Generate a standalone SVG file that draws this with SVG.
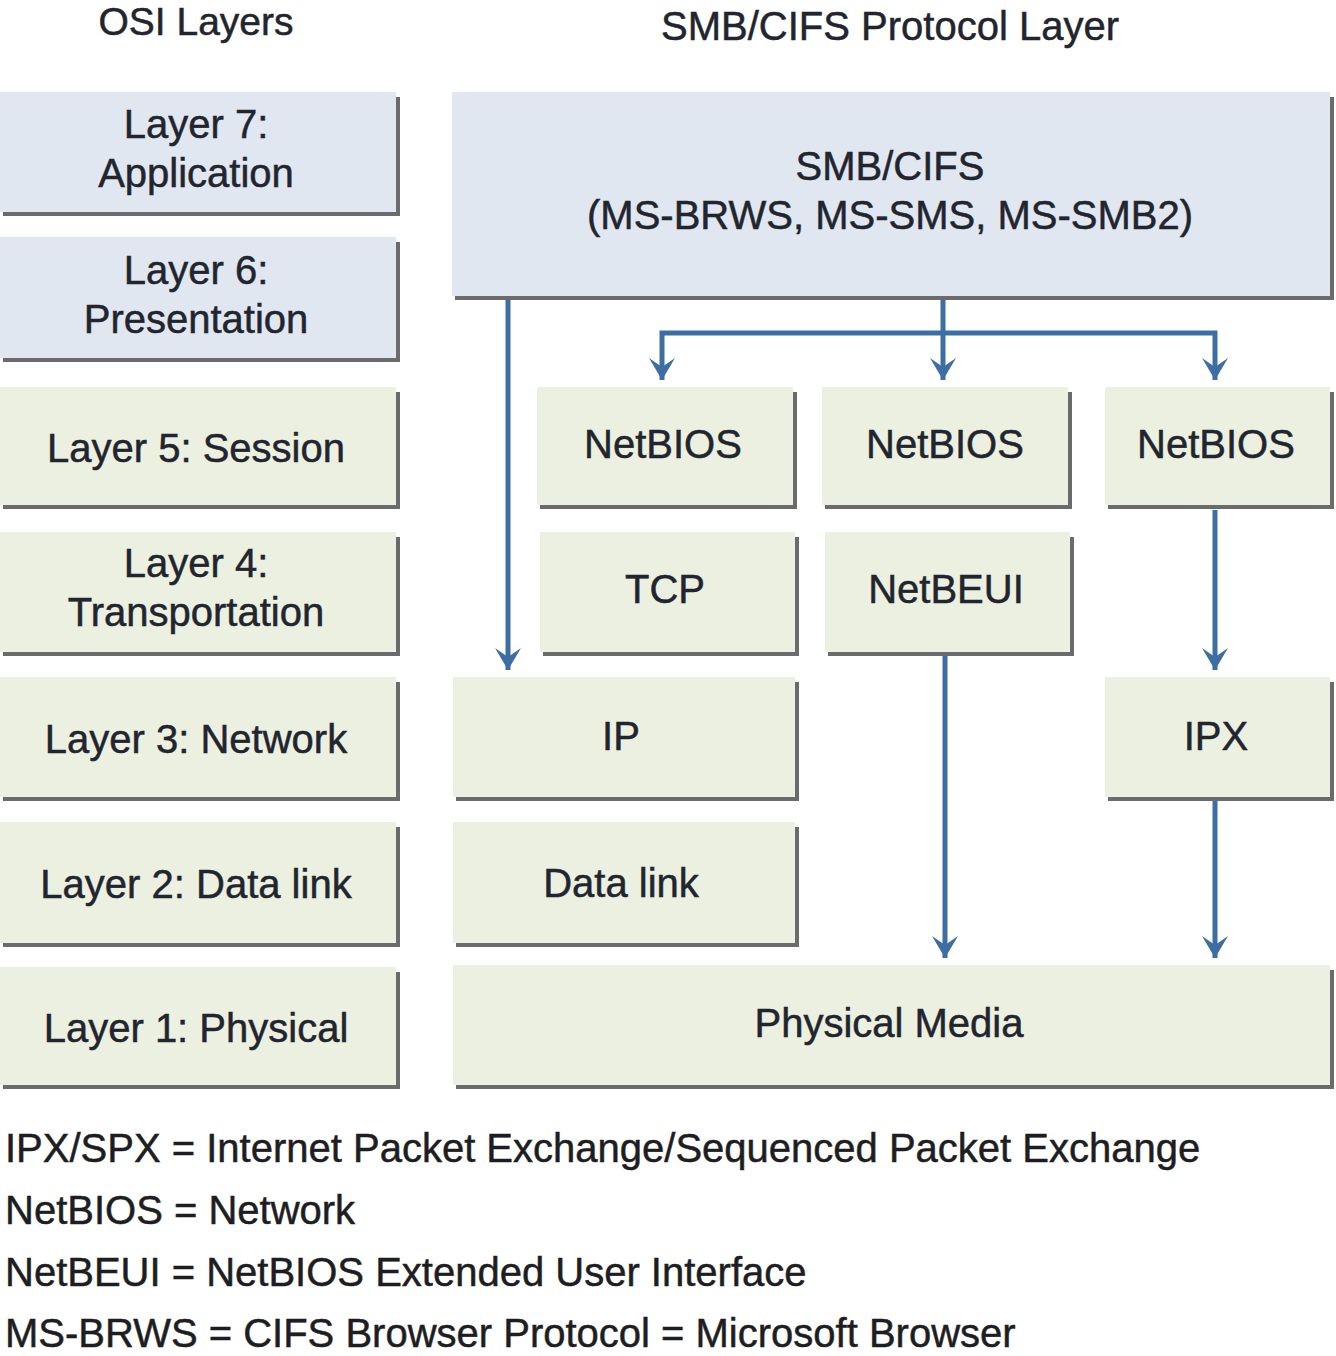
<svg xmlns="http://www.w3.org/2000/svg" width="1336" height="1356" viewBox="0 0 1336 1356">
<defs>
<style>
.t{font-family:"Liberation Sans",Arial,sans-serif;font-size:40px;fill:#22252e;stroke:#22252e;stroke-width:0.5;text-anchor:middle}
.lg{font-family:"Liberation Sans",Arial,sans-serif;font-size:40px;fill:#1e1e22;stroke:#1e1e22;stroke-width:0.5}
.b{fill:#e0e7f1}
.g{fill:#ebf0e1}
.sh{fill:none;stroke:#6b6b6b;stroke-width:4}
.c{fill:none;stroke:#3d6ea3;stroke-width:5}
</style>
<marker id="ah" markerUnits="userSpaceOnUse" viewBox="0 0 24 28" refX="22" refY="14" markerWidth="24" markerHeight="28" orient="auto">
<path d="M22,14 L0,1 L9,14 L0,27 Z" fill="#3d6ea3"/>
</marker>
</defs>
<rect width="1336" height="1356" fill="#ffffff"/>
<text class="t" x="196" y="35" style="font-size:39px">OSI Layers</text>
<text class="t" x="890" y="40">SMB/CIFS Protocol Layer</text>

<g id="layer7"><rect class="b" x="0" y="92" width="396" height="120"/><path class="sh" d="M398,97 V214 H3"/><text class="t" x="196" y="138">Layer 7:</text><text class="t" x="196" y="187">Application</text></g>
<g id="layer6"><rect class="b" x="0" y="237" width="396" height="121"/><path class="sh" d="M398,242 V360 H3"/><text class="t" x="196" y="284">Layer 6:</text><text class="t" x="196" y="333">Presentation</text></g>
<g id="layer5"><rect class="g" x="0" y="387" width="396" height="118"/><path class="sh" d="M398,392 V507 H3"/><text class="t" x="196" y="462">Layer 5: Session</text></g>
<g id="layer4"><rect class="g" x="0" y="532" width="396" height="120"/><path class="sh" d="M398,537 V654 H3"/><text class="t" x="196" y="577">Layer 4:</text><text class="t" x="196" y="626">Transportation</text></g>
<g id="layer3"><rect class="g" x="0" y="677" width="396" height="120"/><path class="sh" d="M398,682 V799 H3"/><text class="t" x="196" y="753">Layer 3: Network</text></g>
<g id="layer2"><rect class="g" x="0" y="822" width="396" height="121"/><path class="sh" d="M398,827 V945 H3"/><text class="t" x="196" y="898">Layer 2: Data link</text></g>
<g id="layer1"><rect class="g" x="0" y="967" width="396" height="118"/><path class="sh" d="M398,972 V1087 H3"/><text class="t" x="196" y="1042">Layer 1: Physical</text></g>

<g id="smb"><rect class="b" x="452" y="92" width="878" height="204"/><path class="sh" d="M1332,97 V298 H455"/><text class="t" x="890" y="180">SMB/CIFS</text><text class="t" x="890" y="229">(MS-BRWS, MS-SMS, MS-SMB2)</text></g>
<g id="netbios1"><rect class="g" x="537" y="387" width="256" height="118"/><path class="sh" d="M795,392 V507 H540"/><text class="t" x="663" y="458">NetBIOS</text></g>
<g id="netbios2"><rect class="g" x="822" y="387" width="246" height="118"/><path class="sh" d="M1070,392 V507 H825"/><text class="t" x="945" y="458">NetBIOS</text></g>
<g id="netbios3"><rect class="g" x="1105" y="387" width="225" height="118"/><path class="sh" d="M1332,392 V507 H1108"/><text class="t" x="1216" y="458">NetBIOS</text></g>
<g id="tcp"><rect class="g" x="540" y="532" width="255" height="120"/><path class="sh" d="M797,537 V654 H543"/><text class="t" x="665" y="603">TCP</text></g>
<g id="netbeui"><rect class="g" x="825" y="532" width="245" height="120"/><path class="sh" d="M1072,537 V654 H828"/><text class="t" x="946" y="603">NetBEUI</text></g>
<g id="ip"><rect class="g" x="453" y="677" width="342" height="120"/><path class="sh" d="M797,682 V799 H456"/><text class="t" x="621" y="750">IP</text></g>
<g id="ipx"><rect class="g" x="1105" y="677" width="225" height="120"/><path class="sh" d="M1332,682 V799 H1108"/><text class="t" x="1216" y="750">IPX</text></g>
<g id="datalink"><rect class="g" x="453" y="822" width="342" height="121"/><path class="sh" d="M797,827 V945 H456"/><text class="t" x="621" y="897">Data link</text></g>
<g id="physical"><rect class="g" x="453" y="965" width="877" height="120"/><path class="sh" d="M1332,970 V1087 H456"/><text class="t" x="889" y="1037">Physical Media</text></g>

<g id="connectors">
<path class="c" d="M508,300 V670" marker-end="url(#ah)"/>
<path class="c" d="M943,300 V380" marker-end="url(#ah)"/>
<path class="c" d="M943,333 H662 V380" marker-end="url(#ah)"/>
<path class="c" d="M943,333 H1215 V380" marker-end="url(#ah)"/>
<path class="c" d="M1215,510 V670" marker-end="url(#ah)"/>
<path class="c" d="M945,656 V958" marker-end="url(#ah)"/>
<path class="c" d="M1215,801 V958" marker-end="url(#ah)"/>
</g>

<g id="legend">
<text class="lg" x="5" y="1162">IPX/SPX = Internet Packet Exchange/Sequenced Packet Exchange</text>
<text class="lg" x="5" y="1224">NetBIOS = Network</text>
<text class="lg" x="5" y="1286">NetBEUI = NetBIOS Extended User Interface</text>
<text class="lg" x="5" y="1347">MS-BRWS = CIFS Browser Protocol = Microsoft Browser</text>
</g>
</svg>
